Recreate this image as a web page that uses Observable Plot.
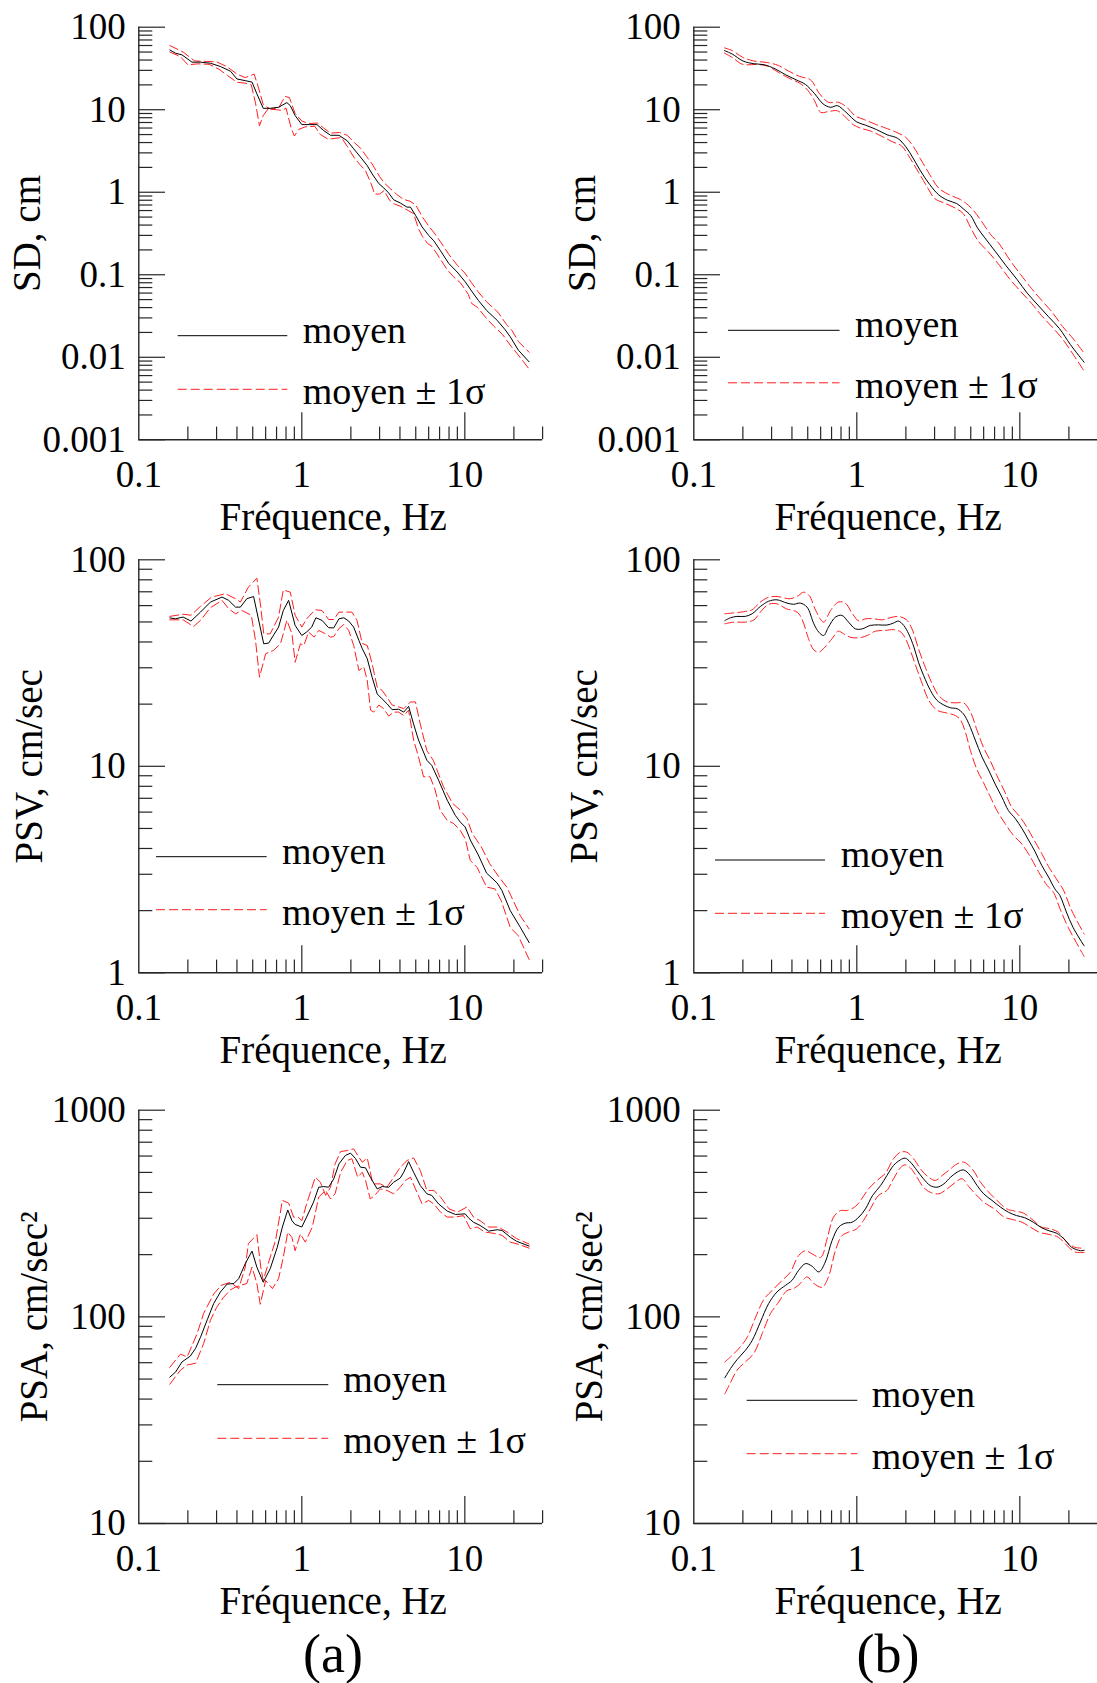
<!DOCTYPE html>
<html><head><meta charset="utf-8">
<script src="https://cdn.jsdelivr.net/npm/d3@7"></script>
<script src="https://cdn.jsdelivr.net/npm/@observablehq/plot@0.6"></script>
<style>
html,body{margin:0;padding:0;background:#fff;}
#root{position:relative;width:1097px;height:1683px;overflow:hidden;background:#fff;}
.panel{position:absolute;}
.panel svg{overflow:visible;display:block;}
</style></head><body><div id="root"></div>
<script>
// ---------- tick values and labels ----------
const xTickLabels = [0.1, 1, 10];
const xMajorTicks = [1, 10];
const xMinorTicks = [0.2,0.3,0.4,0.5,0.6,0.7,0.8,0.9,2,3,4,5,6,7,8,9,20,30];
const sdDecades = [0.001, 0.01, 0.1, 1, 10, 100];
const psvDecades = [1, 10, 100];
const psaDecades = [10, 100, 1000];
const xTitle = "Fréquence, Hz";
const yTitles = ["SD, cm", "PSV, cm/sec", "PSA, cm/sec\u00B2"];
const legendLabels = ["moyen", "moyen \u00B1 1\u03C3"];
const panelLabels = ["(a)", "(b)"];

// ---------- data: [frequency Hz, value] ----------
// (a) SD
const sdA_moyen = [[0.155,53],[0.168,48.4],[0.184,46.2],[0.212,37.7],[0.239,37.7],[0.275,36.6],[0.317,33.4],[0.365,29.3],[0.40,23.6],[0.45,22.5],[0.495,21.6],[0.53,15.6],[0.58,10.4],[0.64,10.4],[0.72,10.7],[0.81,12.2],[0.85,11.2],[0.91,8.5],[1.0,6.6],[1.11,6.6],[1.24,6.6],[1.36,5.6],[1.5,4.9],[1.69,4.9],[1.9,4.2],[2.08,3.36],[2.29,2.67],[2.52,2.1],[2.7,1.67],[2.97,1.27],[3.18,1.13],[3.41,0.98],[3.66,0.81],[4.02,0.74],[4.42,0.66],[4.64,0.66],[4.98,0.527],[5.47,0.38],[6.0,0.30],[6.45,0.258],[7.1,0.195],[7.97,0.137],[8.97,0.108],[10.06,0.082],[11.1,0.062],[12.1,0.049],[13.6,0.037],[15.8,0.028],[17.7,0.0215],[19.0,0.0177],[21.3,0.0122],[24.8,0.0088]];
const sdA_plus = [[0.155,60],[0.187,50],[0.22,39],[0.26,38.5],[0.30,38],[0.35,33],[0.40,27],[0.45,24.5],[0.51,27],[0.54,19],[0.58,11.5],[0.64,10.2],[0.72,10.5],[0.79,14.5],[0.84,14],[0.91,9],[1.0,7.3],[1.1,6.8],[1.25,6.9],[1.36,6.0],[1.5,5.2],[1.7,5.3],[1.9,4.9],[2.1,4.0],[2.3,3.4],[2.5,2.7],[2.7,2.2],[3.0,1.55],[3.2,1.3],[3.5,1.1],[3.8,0.95],[4.2,0.82],[4.6,0.78],[5.0,0.7],[5.5,0.5],[6.0,0.39],[6.5,0.32],[7.1,0.25],[8.0,0.175],[9.0,0.13],[10,0.105],[11,0.08],[12,0.063],[13.6,0.047],[16,0.035],[18,0.025],[19.5,0.021],[21.3,0.0155],[24.8,0.0115]];
const sdA_minus = [[0.155,50],[0.18,44],[0.20,35],[0.23,36],[0.27,35.5],[0.31,31],[0.35,26],[0.40,21.5],[0.45,21],[0.49,20],[0.52,12],[0.55,6.4],[0.58,8.5],[0.62,10.2],[0.70,10.0],[0.76,9.8],[0.80,10.5],[0.86,6.0],[0.90,4.8],[0.96,5.8],[1.05,6.2],[1.2,6.3],[1.3,5.0],[1.45,4.4],[1.6,4.5],[1.75,4.6],[1.9,3.6],[2.1,2.6],[2.3,2.1],[2.45,1.85],[2.65,1.3],[2.8,0.95],[3.0,0.95],[3.2,1.05],[3.45,0.8],[3.7,0.72],[4.0,0.68],[4.5,0.6],[4.85,0.55],[5.2,0.36],[5.5,0.29],[5.9,0.24],[6.3,0.22],[7.0,0.16],[7.8,0.115],[8.5,0.095],[9.4,0.08],[10.5,0.058],[11,0.045],[12,0.04],[13.5,0.03],[15,0.024],[17,0.019],[19,0.014],[21,0.011],[24.8,0.0072]];
// (a) PSV
const psvA_moyen = [[0.155,52.3],[0.168,51.8],[0.187,52.8],[0.209,50.5],[0.239,55.8],[0.275,62.4],[0.324,66],[0.356,63.6],[0.392,59],[0.42,59],[0.46,64.8],[0.506,66.4],[0.584,39.2],[0.626,39.5],[0.72,47.2],[0.77,56.8],[0.83,63.6],[0.91,48.1],[1.0,43],[1.07,44.7],[1.15,47.2],[1.22,52.4],[1.33,50.9],[1.46,46.9],[1.57,46.8],[1.69,51.8],[1.81,52.4],[1.94,50.5],[2.08,47.2],[2.24,40.7],[2.35,37.1],[2.52,33.2],[2.7,27],[2.9,22.4],[3.11,21.2],[3.33,20.1],[3.58,18.8],[3.93,18.9],[4.22,18.3],[4.52,19.5],[4.85,16],[5.2,13.4],[5.85,10.7],[6.27,10.1],[6.9,8.57],[7.8,6.85],[8.75,5.78],[9.38,5.37],[10.06,5.08],[10.8,4.4],[12.1,3.72],[13.6,3.04],[15.8,2.72],[16.9,2.5],[19,2.0],[22,1.65],[24.8,1.40]];
const psvA_plus = [[0.155,53.2],[0.187,54.5],[0.209,53.9],[0.239,59.5],[0.28,66],[0.34,68.5],[0.392,64.8],[0.42,62.4],[0.47,73.7],[0.53,81.5],[0.56,59],[0.584,43.8],[0.64,43.8],[0.72,52.8],[0.77,71.5],[0.85,69.7],[0.91,53.9],[1.0,47.2],[1.07,51.8],[1.21,57.3],[1.33,56.8],[1.46,51.4],[1.57,51.4],[1.69,55.8],[2.03,55.8],[2.18,50.9],[2.35,39.3],[2.52,38.5],[2.7,31.4],[2.9,24.2],[3.11,23.3],[3.33,21.6],[3.58,19.8],[3.93,19.4],[4.22,19],[4.64,20.5],[4.98,20.5],[5.33,16],[5.85,11.9],[6.4,10.7],[7.4,7.96],[8.4,6.62],[9.38,6.13],[10.3,5.6],[11.1,4.73],[12.6,4.08],[14.2,3.38],[16.1,2.93],[18.1,2.6],[21.9,1.89],[24.8,1.63]];
const psvA_minus = [[0.155,51.2],[0.187,51.2],[0.217,47.5],[0.239,50.9],[0.275,58.6],[0.324,63.6],[0.356,57.9],[0.392,54.8],[0.43,56.8],[0.49,53.9],[0.52,40.7],[0.55,27],[0.6,35.1],[0.67,36.4],[0.74,39.2],[0.81,50.9],[0.87,43.8],[0.91,31.9],[0.98,39.2],[1.03,38.5],[1.10,44.7],[1.19,42.2],[1.27,45.5],[1.40,43.8],[1.50,42.2],[1.57,42.5],[1.69,46.5],[1.81,48.6],[1.94,45.5],[2.08,38.5],[2.24,29.1],[2.4,30.3],[2.52,26.1],[2.64,18.7],[2.76,18.3],[2.97,19.8],[3.18,19],[3.41,17.5],[3.66,18.3],[3.93,18.3],[4.22,17.6],[4.52,18.7],[4.85,13.4],[5.2,11.1],[5.58,8.9],[6.12,8.9],[6.57,7.7],[7.05,6.13],[7.8,5.47],[8.55,5.28],[9.38,4.89],[10.06,4.45],[10.8,3.5],[11.9,3.24],[13.6,2.6],[15.3,2.55],[16.7,2.24],[19,1.66],[21.3,1.51],[24.8,1.16]];
// (a) PSA
const psaA_moyen = [[0.155,51.1],[0.168,54],[0.184,60.5],[0.207,64.6],[0.223,70.4],[0.239,79.6],[0.263,96.8],[0.288,116],[0.317,132],[0.348,144],[0.383,145],[0.41,153],[0.45,181],[0.495,208],[0.53,174],[0.58,147],[0.64,171],[0.707,217],[0.76,272],[0.82,329],[0.87,292],[0.91,280],[1.0,272],[1.07,304],[1.18,359],[1.27,424],[1.36,427],[1.46,424],[1.57,465],[1.69,550],[1.85,604],[1.99,620],[2.14,582],[2.29,530],[2.46,526],[2.63,474],[2.9,416],[3.11,427],[3.41,424],[3.66,448],[4.02,470],[4.22,501],[4.52,564],[4.85,501],[5.33,432],[5.85,394],[6.27,387],[6.9,352],[7.8,325],[8.75,313],[10.06,315],[10.5,302],[11.3,287],[12.4,277],[14.0,260],[15.8,264],[16.9,262],[19.0,243],[20.8,232],[24.8,220]];
const psaA_plus = [[0.155,57],[0.18,66],[0.198,64],[0.228,83],[0.25,104],[0.288,129],[0.32,142],[0.365,147],[0.41,137],[0.45,174],[0.47,226],[0.53,250],[0.56,174],[0.58,150],[0.63,187],[0.69,234],[0.76,366],[0.83,355],[0.89,304],[0.95,304],[1.0,292],[1.07,352],[1.21,474],[1.30,448],[1.40,387],[1.5,424],[1.6,550],[1.73,631],[1.9,638],[2.08,650],[2.24,592],[2.35,560],[2.52,588],[2.7,457],[2.8,440],[3.03,440],[3.33,424],[3.66,474],[4.02,530],[4.42,571],[4.85,588],[5.33,511],[5.85,409],[6.45,409],[7.1,380],[8.0,333],[9.0,321],[10.3,340],[11.3,304],[12.4,292],[14.0,272],[16.1,272],[18.2,257],[20.8,239],[24.8,225]];
const psaA_minus = [[0.155,47.2],[0.18,55.2],[0.198,58.5],[0.223,59.6],[0.25,74.3],[0.275,96.3],[0.30,111],[0.33,124],[0.365,135],[0.39,139],[0.42,142],[0.46,145],[0.495,174],[0.53,145],[0.556,115],[0.60,150],[0.66,137],[0.72,153],[0.77,194],[0.82,257],[0.87,242],[0.91,209],[0.98,252],[1.05,230],[1.16,272],[1.27,380],[1.40,409],[1.5,372],[1.6,394],[1.73,501],[1.9,571],[2.03,582],[2.2,474],[2.35,501],[2.46,457],[2.63,372],[2.8,387],[3.03,416],[3.33,409],[3.66,394],[4.02,424],[4.32,457],[4.64,474],[4.98,416],[5.47,352],[6.0,366],[6.45,352],[7.1,321],[7.8,304],[8.75,304],[9.8,309],[10.8,267],[11.9,272],[13.3,257],[14.9,254],[16.9,248],[19.0,230],[21.5,224],[24.8,215]];
// (b) SD
const sdB_moyen = [[0.154,52.1],[0.172,47.3],[0.2,39],[0.233,36.1],[0.27,35.1],[0.315,31.3],[0.366,26.5],[0.425,23],[0.483,20.3],[0.55,15.7],[0.62,11.8],[0.69,10.7],[0.76,11.2],[0.84,9.7],[0.93,8],[1.0,7.1],[1.13,6.5],[1.32,5.75],[1.53,4.98],[1.78,4.5],[2.0,3.55],[2.23,2.53],[2.46,1.81],[2.8,1.24],[3.18,0.93],[3.6,0.8],[4.1,0.73],[4.5,0.63],[5.0,0.52],[5.5,0.37],[6.1,0.28],[7.1,0.19],[8.2,0.13],[9.6,0.088],[11.1,0.06],[12.9,0.043],[15,0.031],[17.5,0.0223],[20.4,0.0143],[24.8,0.0087]];
const sdB_plus = [[0.154,56.2],[0.172,52.1],[0.2,43],[0.233,39],[0.284,37.2],[0.33,34.4],[0.384,29.2],[0.447,25.3],[0.52,23],[0.59,15.7],[0.67,12.3],[0.77,12.3],[0.86,10.9],[0.98,8.4],[1.11,7.6],[1.29,6.7],[1.5,6.0],[1.74,5.35],[2.0,4.6],[2.23,3.55],[2.46,2.53],[2.8,1.64],[3.18,1.12],[3.7,0.93],[4.3,0.82],[4.7,0.73],[5.2,0.6],[5.8,0.45],[6.6,0.31],[7.5,0.235],[8.7,0.15],[10.1,0.101],[11.8,0.068],[13.6,0.049],[15.8,0.0352],[18.3,0.0236],[21.4,0.0165],[24.8,0.0112]];
const sdB_minus = [[0.154,48.7],[0.172,43],[0.2,35.4],[0.245,35.4],[0.284,33.7],[0.33,28.4],[0.384,24.1],[0.447,20.9],[0.5,17.2],[0.55,12.9],[0.6,9.3],[0.67,9.5],[0.76,9.7],[0.86,8.0],[0.95,6.6],[1.05,6.0],[1.22,5.5],[1.42,4.77],[1.65,4.1],[1.88,3.65],[2.07,2.8],[2.4,1.72],[2.73,1.12],[3.0,0.84],[3.5,0.73],[4.1,0.63],[4.5,0.55],[5.0,0.37],[5.6,0.25],[6.4,0.19],[7.5,0.13],[8.7,0.088],[10.1,0.063],[11.8,0.045],[13.6,0.032],[15.8,0.0232],[18.3,0.0166],[21.4,0.0106],[24.8,0.0068]];
// (b) PSV
const psvB_moyen = [[0.155,50.8],[0.168,52.4],[0.184,53.2],[0.207,53.2],[0.228,54.8],[0.256,59.4],[0.288,63],[0.324,64],[0.373,61.7],[0.41,60.9],[0.45,61.7],[0.495,59],[0.545,49],[0.585,44.6],[0.626,43],[0.67,47.2],[0.74,52.8],[0.81,53.8],[0.89,49.9],[0.98,46.3],[1.08,46.3],[1.21,48.1],[1.36,48.4],[1.53,48.3],[1.68,49.4],[1.80,50.5],[1.94,48.1],[2.08,43.8],[2.24,37.8],[2.39,31.9],[2.57,27.5],[2.83,23.3],[3.1,20.9],[3.42,19.8],[3.76,19.2],[4.12,19],[4.52,17.9],[4.86,16.1],[5.33,13.4],[5.86,11.1],[6.43,9.6],[7.06,8.2],[7.76,7.1],[8.52,6.1],[9.35,5.6],[10.3,5.0],[11.3,4.4],[12.4,3.86],[13.6,3.32],[15,2.91],[16.4,2.55],[17.6,2.37],[19.3,1.97],[21.2,1.66],[24.8,1.35]];
const psvB_plus = [[0.155,54.8],[0.207,56.2],[0.228,57.3],[0.256,62.4],[0.288,65.9],[0.324,66.4],[0.39,64.8],[0.44,67.2],[0.47,69.7],[0.51,67.2],[0.56,56.8],[0.626,49.9],[0.69,56.8],[0.77,62.4],[0.85,61.7],[0.94,54.8],[1.03,50.5],[1.13,51.8],[1.27,51.8],[1.43,51.2],[1.6,52.4],[1.8,53.2],[2.02,51.2],[2.18,46.3],[2.39,37.1],[2.63,30.2],[2.9,25.1],[3.18,22],[3.58,20.5],[4.12,20.3],[4.52,20.3],[4.98,18.3],[5.47,14.9],[6.0,12.3],[6.6,10.6],[7.24,9.0],[8.1,7.5],[8.9,6.36],[10.0,5.7],[11.0,5.1],[12.1,4.46],[13.6,3.79],[15,3.27],[16.9,2.82],[18.5,2.52],[20.7,2.02],[24.8,1.54]];
const psvB_minus = [[0.155,49],[0.176,49.9],[0.207,49.9],[0.234,51.2],[0.256,55.8],[0.288,60.9],[0.324,61.2],[0.37,57.9],[0.43,55.8],[0.46,51.8],[0.51,40.7],[0.545,36.6],[0.585,35.7],[0.626,37.2],[0.705,41.5],[0.77,45.1],[0.83,43.8],[0.91,42.2],[1.03,41.9],[1.16,43],[1.30,45.1],[1.50,45.5],[1.68,45.9],[1.86,44.7],[1.99,41.5],[2.15,35.7],[2.31,30.3],[2.52,25.1],[2.76,20.9],[3.1,18.7],[3.58,18.1],[4.03,17.6],[4.32,16.8],[4.64,14.6],[4.98,11.9],[5.47,9.6],[6.0,8.3],[6.6,7.1],[7.24,6.1],[8.1,5.3],[9.1,4.65],[10.3,4.2],[11.6,3.64],[13.1,3.06],[14.7,2.65],[16.1,2.45],[17.6,2.05],[19.8,1.66],[24.8,1.2]];
// (b) PSA
const psaB_moyen = [[0.155,50.7],[0.168,56.2],[0.184,62],[0.207,68.8],[0.228,76.8],[0.256,94.3],[0.288,116],[0.324,132],[0.365,142],[0.40,150],[0.44,168],[0.485,181],[0.53,176],[0.585,165],[0.64,184],[0.705,234],[0.775,272],[0.85,284],[0.935,287],[1.03,304],[1.13,333],[1.25,387],[1.40,432],[1.53,483],[1.68,540],[1.85,575],[1.98,586],[2.13,561],[2.34,511],[2.56,466],[2.82,432],[3.1,424],[3.42,440],[3.76,474],[4.12,501],[4.52,514],[4.97,483],[5.47,432],[6.0,394],[6.75,366],[7.6,340],[8.5,321],[9.55,309],[10.7,302],[12.1,287],[13.6,270],[15.3,260],[16.8,254],[18.6,239],[20.8,217],[23.6,209],[24.8,210]];
const psaB_plus = [[0.155,60.5],[0.168,64],[0.193,71.6],[0.213,79.9],[0.24,100],[0.27,122],[0.302,134],[0.348,150],[0.39,164],[0.44,198],[0.485,209],[0.53,202],[0.6,194],[0.66,242],[0.72,304],[0.795,327],[0.87,327],[0.98,342],[1.07,372],[1.18,416],[1.33,457],[1.50,496],[1.68,582],[1.85,626],[2.03,626],[2.23,582],[2.5,511],[2.76,474],[3.03,457],[3.34,483],[3.76,520],[4.12,550],[4.52,561],[5.1,520],[5.74,448],[6.45,401],[7.24,366],[8.3,333],[9.3,325],[10.5,318],[12.1,293],[13.6,272],[15.3,267],[17.2,257],[19.4,230],[21.8,217],[24.8,215]];
const psaB_minus = [[0.155,42.4],[0.168,48.1],[0.184,55.1],[0.207,60.5],[0.233,66.4],[0.263,83.1],[0.296,104],[0.332,118],[0.373,134],[0.41,137],[0.45,145],[0.495,156],[0.545,145],[0.613,139],[0.67,156],[0.74,210],[0.81,247],[0.89,257],[1.0,267],[1.1,293],[1.21,333],[1.36,387],[1.53,409],[1.68,466],[1.85,526],[1.98,544],[2.13,526],[2.34,474],[2.56,424],[2.82,401],[3.18,394],[3.58,416],[4.03,448],[4.42,466],[4.86,427],[5.33,394],[6.0,359],[6.97,333],[8.0,304],[9.15,295],[10.3,287],[11.6,272],[13.1,257],[15.3,250],[17.2,243],[19.4,222],[21.8,206],[24.8,205]];

// ---------- layout ----------
const FONT = "'Liberation Serif','Times New Roman',Times,serif";
const RED = "#ff1e1e";
const AXIS = "#262626";
const SVG_W = 560, ML = 138.3, FRAME_W = 403.8;
const colLeft = [0, 555];
const rows = [
  {top: 0,    height: 560, mt: 26.7, mb: 120.7, domain: [0.001, 100], decades: sdDecades,  title: yTitles[0], titleDx: 99},
  {top: 530,  height: 560, mt: 29.3, mb: 117.7, domain: [1, 100],     decades: psvDecades, title: yTitles[1], titleDx: 96.6},
  {top: 1080, height: 560, mt: 29.7, mb: 117,   domain: [10, 1000],   decades: psaDecades, title: yTitles[2], titleDx: 91.6}
];
const seriesByPanel = [
  [[sdA_moyen, sdA_plus, sdA_minus], [sdB_moyen, sdB_plus, sdB_minus]],
  [[psvA_moyen, psvA_plus, psvA_minus], [psvB_moyen, psvB_plus, psvB_minus]],
  [[psaA_moyen, psaA_plus, psaA_minus], [psaB_moyen, psaB_plus, psaB_minus]]
];
const toRows = arr => arr.map(([f, v]) => ({f, v}));
const root = document.getElementById("root");

rows.forEach((row, ri) => {
  [0, 1].forEach(ci => {
    const [moyen, plus, minus] = seriesByPanel[ri][ci];
    const curve = ci === 0 ? "linear" : "catmull-rom";
    const innerH = row.height - row.mt - row.mb;
    const yMinor = row.decades.slice(0, -1).flatMap(d => [2,3,4,5,6,7,8,9].map(k => d * k));
    const plot = Plot.plot({
      width: SVG_W, height: row.height,
      marginLeft: ML, marginRight: SVG_W - ML - FRAME_W, marginTop: row.mt, marginBottom: row.mb,
      x: {type: "log", domain: [0.1, 30], label: null},
      y: {type: "log", domain: row.domain, label: null},
      style: {background: "transparent", fontFamily: FONT, fontSize: "37px", color: "#000", overflow: "visible"},
      marks: [
        Plot.ruleX(xMinorTicks, {x: d => d, stroke: AXIS, strokeWidth: 1.2, insetTop: innerH - 12.7}),
        Plot.ruleX(xMajorTicks, {x: d => d, stroke: AXIS, strokeWidth: 1.2, insetTop: innerH - 27}),
        Plot.ruleY(yMinor, {y: d => d, stroke: AXIS, strokeWidth: 1.2, insetRight: FRAME_W - 14}),
        Plot.ruleY(row.decades, {y: d => d, stroke: AXIS, strokeWidth: 1.2, insetRight: FRAME_W - 26.7}),
        Plot.ruleX([0.1], {stroke: AXIS, strokeWidth: 1.4}),
        Plot.ruleY([row.domain[0]], {stroke: AXIS, strokeWidth: 1.4}),
        Plot.axisX({ticks: xTickLabels, tickSize: 0, tickPadding: 21, tickFormat: d => String(d), label: null, fontSize: 37}),
        Plot.axisY({ticks: row.decades, tickSize: 0, tickPadding: 13, tickFormat: d => String(d), label: null, fontSize: 37}),
        Plot.text([xTitle], {text: d => d, frameAnchor: "bottom", dy: 90, dx: -7.5, lineAnchor: "bottom", fontSize: 39, fill: "#000"}),
        Plot.text([row.title], {text: d => d, frameAnchor: "left", dx: -row.titleDx, rotate: -90, lineAnchor: "bottom", textAnchor: "middle", fontSize: 39, fill: "#000"}),
        Plot.line(toRows(minus), {x: "f", y: "v", stroke: RED, strokeWidth: 1, strokeDasharray: "9,4", curve}),
        Plot.line(toRows(plus), {x: "f", y: "v", stroke: RED, strokeWidth: 1, strokeDasharray: "9,4", curve}),
        Plot.line(toRows(moyen), {x: "f", y: "v", stroke: "#000", strokeWidth: 1, curve})
      ]
    });
    const div = document.createElement("div");
    div.className = "panel";
    div.style.left = colLeft[ci] + "px";
    div.style.top = row.top + "px";
    div.style.width = SVG_W + "px";
    div.style.height = row.height + "px";
    div.appendChild(plot);
    root.appendChild(div);
  });
});

// ---------- legends and panel labels ----------
const legendPos = [
  {x1: 177.7, x2: 287.3, tx: 302.7, y1: 335.7, y2: 389.3},
  {x1: 728,   x2: 839.5, tx: 855,   y1: 330.3, y2: 382.8},
  {x1: 156,   x2: 266.7, tx: 282,   y1: 856.7, y2: 909.7},
  {x1: 715,   x2: 825,   tx: 840.7, y1: 860,   y2: 913.3},
  {x1: 217.3, x2: 328.3, tx: 343.3, y1: 1384.7, y2: 1438.3},
  {x1: 746.7, x2: 857.3, tx: 871.7, y1: 1400.3, y2: 1453.7}
];
const overlay = d3.select(root).append("svg")
  .attr("width", 1097).attr("height", 1683)
  .style("position", "absolute").style("left", 0).style("top", 0)
  .style("font-family", FONT);
legendPos.forEach(p => {
  overlay.append("line").attr("x1", p.x1).attr("x2", p.x2).attr("y1", p.y1).attr("y2", p.y1)
    .attr("stroke", "#000").attr("stroke-width", 1);
  overlay.append("line").attr("x1", p.x1).attr("x2", p.x2).attr("y1", p.y2).attr("y2", p.y2)
    .attr("stroke", RED).attr("stroke-width", 1).attr("stroke-dasharray", "9,4");
  overlay.append("text").attr("x", p.tx).attr("y", p.y1 + 7).attr("font-size", 38).text(legendLabels[0]);
  overlay.append("text").attr("x", p.tx).attr("y", p.y2 + 15).attr("font-size", 38).text(legendLabels[1]);
});
[333, 888].forEach((x, i) => {
  overlay.append("text").attr("x", x).attr("y", 1672).attr("font-size", 54)
    .attr("text-anchor", "middle").text(panelLabels[i]);
});
</script></body></html>
